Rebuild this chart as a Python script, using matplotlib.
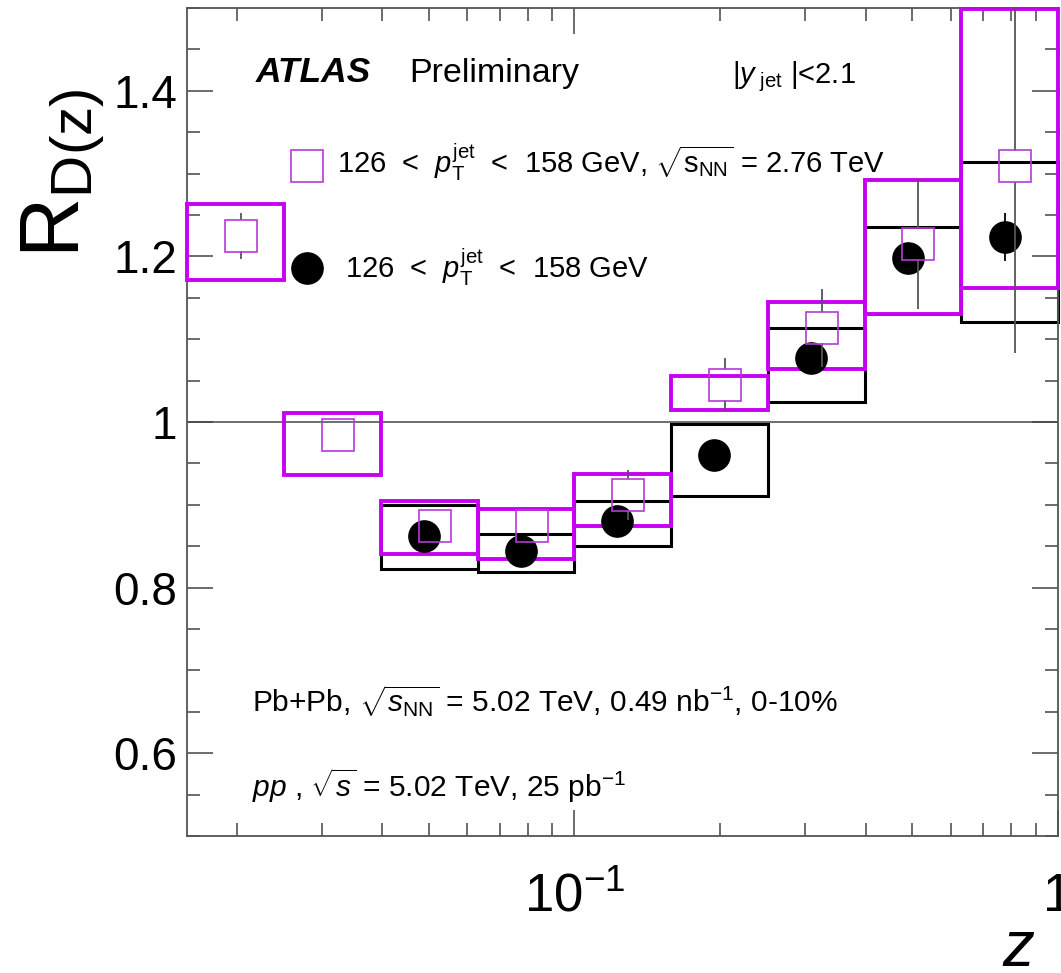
import numpy as np
import matplotlib
matplotlib.use("Agg")
import matplotlib.pyplot as plt
from matplotlib import font_manager
from matplotlib.patches import Rectangle
from matplotlib.ticker import FixedLocator, MultipleLocator, FuncFormatter, LogLocator, NullFormatter

nan = np.nan

# z bin edges (log-spaced, 5 per decade)
z_edges = [0.0158, 0.0251, 0.0398, 0.0631, 0.1, 0.158, 0.251, 0.398, 0.631, 1.0]

# sqrt(s_NN) = 2.76 TeV: R_D(z), statistical error, systematic band edges
rdz_276 = [1.225, 0.984, 0.874, 0.874, 0.912, 1.045, 1.114, 1.215, 1.309]
stat_276 = [0.028, 0.012, 0.012, 0.012, 0.030, 0.032, 0.047, 0.078, 0.226]
syst_lo_276 = [1.172, 0.936, 0.841, 0.834, 0.875, 1.015, 1.064, 1.130, 1.162]
syst_hi_276 = [1.263, 1.011, 0.905, 0.895, 0.937, 1.055, 1.145, 1.292, 1.499]

# sqrt(s_NN) = 5.02 TeV
rdz_502 = [nan, nan, 0.862, 0.844, 0.881, 0.960, 1.077, 1.198, 1.224]
stat_502 = [nan, nan, 0.010, 0.010, 0.010, 0.010, 0.012, 0.012, 0.029]
syst_lo_502 = [nan, nan, 0.823, 0.819, 0.850, 0.911, 1.024, 1.131, 1.121]
syst_hi_502 = [nan, nan, 0.900, 0.865, 0.904, 0.998, 1.113, 1.236, 1.314]

y_major = [0.6, 0.8, 1.0, 1.2, 1.4]

MAGENTA = "#c800f2"
SQ_EDGE = "#b43ad8"
ERR_GREY = "#555555"

# fonts
names = {f.name for f in font_manager.fontManager.ttflist}
BASE = "Liberation Sans" if "Liberation Sans" in names else "DejaVu Sans"
NARROW = "Liberation Sans Narrow" if "Liberation Sans Narrow" in names else BASE
plt.rcParams["font.family"] = [BASE, "DejaVu Sans"]
plt.rcParams["mathtext.fontset"] = "custom"
plt.rcParams["mathtext.rm"] = BASE
plt.rcParams["mathtext.it"] = BASE + ":italic"
plt.rcParams["mathtext.bf"] = BASE + ":bold"

W, H = 1061, 973
fig = plt.figure(figsize=(W / 100, H / 100), dpi=100)
L, R, T, B = 187, 1058, 8, 836
ax = fig.add_axes([L / W, 1 - B / H, (R - L) / W, (B - T) / H])

ax.set_xscale("log")
ax.set_xlim(z_edges[0], z_edges[-1])
ax.set_ylim(0.5, 1.5)

edges = np.array(z_edges)
x_276 = 0.5 * (edges[:-1] + edges[1:])
x_502 = x_276 * 0.951

# reference line at unity
ax.axhline(1.0, color=ERR_GREY, lw=1.2, zorder=1)

# systematic boxes
for i in range(len(x_502)):
    if np.isnan(rdz_502[i]):
        continue
    ax.add_patch(Rectangle((edges[i], syst_lo_502[i]), edges[i + 1] - edges[i],
                           syst_hi_502[i] - syst_lo_502[i], fill=False,
                           ec="black", lw=2.2, zorder=2, clip_on=False))
for i in range(len(x_276)):
    ax.add_patch(Rectangle((edges[i], syst_lo_276[i]), edges[i + 1] - edges[i],
                           syst_hi_276[i] - syst_lo_276[i], fill=False,
                           ec=MAGENTA, lw=2.8, zorder=3, clip_on=False))

# 5.02 TeV points
ax.errorbar(x_502, rdz_502, yerr=stat_502, fmt="none", ecolor="black",
            elinewidth=1.3, capsize=0, zorder=4)
ax.plot(x_502, rdz_502, "o", color="black", ms=22.5, zorder=4)

# 2.76 TeV points: error bars stop at the open marker edge
px_per_unit = (B - T) / 1.0
half = 15.5 / px_per_unit
v = np.array(rdz_276)
e = np.array(stat_276)
up = e > half
ax.vlines(x_276[up], (v + half)[up], (v + e)[up], color=ERR_GREY, lw=1.3, zorder=5)
ax.vlines(x_276[up], (v - e)[up], (v - half)[up], color=ERR_GREY, lw=1.3, zorder=5)
ax.plot(x_276, rdz_276, "s", mfc="none", mec=SQ_EDGE, mew=1.2, ms=22.5, zorder=6)

# axes styling
for s in ax.spines.values():
    s.set_color("#555555")
    s.set_linewidth(1.3)
ax.yaxis.set_major_locator(FixedLocator(y_major))
ax.yaxis.set_minor_locator(MultipleLocator(0.05))
ax.yaxis.set_major_formatter(FuncFormatter(lambda y, p: f"{y:g}"))
ax.xaxis.set_major_locator(FixedLocator([0.1, 1.0]))
ax.xaxis.set_minor_locator(LogLocator(base=10, subs=np.arange(2, 10)))
ax.xaxis.set_minor_formatter(NullFormatter())
ax.xaxis.set_major_formatter(FuncFormatter(lambda x, p: r"$10^{-1}$" if x < 0.5 else "1"))
ax.tick_params(which="both", direction="in", top=True, right=True, color="#444444", width=1.1)
ax.tick_params(which="major", length=19)
ax.tick_params(which="minor", length=9.5)
ax.tick_params(axis="y", which="major", labelsize=33, pad=7)
ax.tick_params(axis="x", which="major", labelsize=38, pad=26)

# axis titles
fig.text(63 / W, 1 - 173 / H, r"$\mathrm{R_{D(z)}}$", rotation=90, fontsize=60,
         ha="center", va="center")
fig.text(1019 / W, 1 - 966 / H, r"$z$", fontsize=46, ha="center", va="baseline")

def ax_xy(px, py):
    return (px - L) / (R - L), (B - py) / (B - T)

# labels
ax.text(*ax_xy(256, 82), "ATLAS", transform=ax.transAxes, fontsize=25.5,
        fontweight="bold", fontstyle="italic", va="baseline", ha="left")
ax.text(*ax_xy(409, 82), "Preliminary", transform=ax.transAxes, fontsize=24.5,
        va="baseline", ha="left")
ax.text(*ax_xy(732, 83), r"$|y_{\ \mathrm{jet}}\ |$<2.1", transform=ax.transAxes,
        fontsize=21, va="baseline", ha="left")

# legend entries
ax.plot(*ax_xy(307, 166), "s", mfc="none", mec=SQ_EDGE, mew=1.2, ms=22.5,
        transform=ax.transAxes, clip_on=False)
ax.text(*ax_xy(337, 173), r"126  <  $p_{\mathrm{T}}^{\mathrm{jet}}$  <  158 GeV, $\sqrt{\mathrm{s}_{\mathrm{NN}}}$ = 2.76 TeV",
        transform=ax.transAxes, fontsize=21, va="baseline", ha="left")
ax.plot(*ax_xy(307, 268), "o", color="black", ms=22.5, transform=ax.transAxes, clip_on=False)
ax.text(*ax_xy(345, 278), r"126  <  $p_{\mathrm{T}}^{\mathrm{jet}}$  <  158 GeV",
        transform=ax.transAxes, fontsize=21, va="baseline", ha="left")

# dataset descriptions
ax.text(*ax_xy(252, 712), r"Pb+Pb, $\sqrt{s_{\mathrm{NN}}}$ = 5.02 TeV, 0.49 nb$^{\mathrm{-1}}$, 0-10%",
        transform=ax.transAxes, fontsize=21.5, family=NARROW, va="baseline", ha="left")
ax.text(*ax_xy(252, 797), r"$pp$ , $\sqrt{s}$ = 5.02 TeV, 25 pb$^{\mathrm{-1}}$",
        transform=ax.transAxes, fontsize=21.5, family=NARROW, va="baseline", ha="left")

fig.savefig("out.png", dpi=100)
